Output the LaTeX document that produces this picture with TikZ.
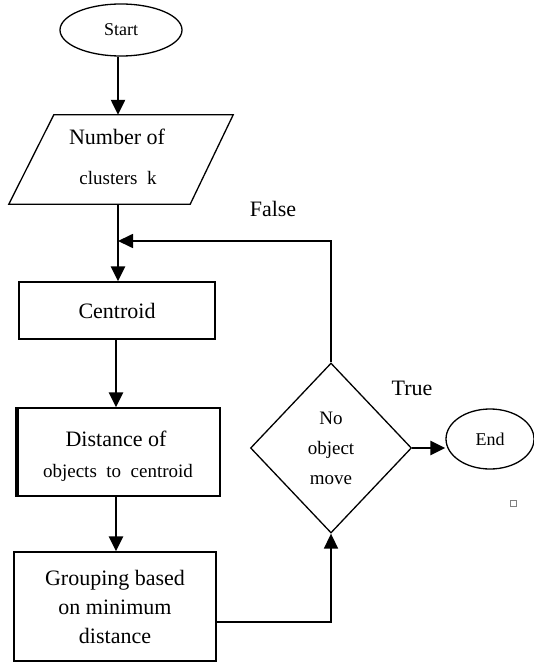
\documentclass[tikz,border=0pt]{standalone}
\usepackage{fontspec}
\setmainfont{Liberation Serif}
\usetikzlibrary{shapes.geometric,arrows.meta}
\begin{document}
\begin{tikzpicture}[x=1pt,y=-1pt,
  box/.style={draw,line width=1.3pt,rectangle,inner sep=0pt,align=center},
  term/.style={draw,line width=1.3pt,ellipse,inner sep=0pt,align=center},
  tip/.style={-{Triangle[length=15pt,width=14pt]}},
  flow/.style={line width=2.4pt,tip},
  plain/.style={line width=1.7pt,tip},
  big/.style={font=\fontsize{22}{26}\selectfont},
  mid/.style={font=\fontsize{19}{22}\selectfont},
  small/.style={font=\fontsize{18}{21}\selectfont}]
\useasboundingbox (0,0) rectangle (534,663);

% Start
\node[term,small,minimum width=122pt,minimum height=52pt] (start) at (121,30) {Start};

% parallelogram input
\node[inner sep=0pt,minimum width=224pt,minimum height=89pt,align=center] (num) at (121,159.5) {};
\draw[line width=1.3pt] ([xshift=45pt]num.north west) -- (num.north east)
  -- ([xshift=-43pt]num.south east) -- (num.south west) -- cycle;
\node[big,anchor=base] (numt1) at (117,145) {Number of};
\node[mid,anchor=base] (numt2) at (118,184) {clusters\ \ k};

% Centroid
\node[box,big,minimum width=196pt,minimum height=57pt] (cent) at (117,310.5) {Centroid};

% Distance
\node[box,minimum width=203pt,minimum height=88pt] (dist) at (118.5,452) {};
\draw[line width=4pt] ([xshift=1pt]dist.north west) -- ([xshift=1pt]dist.south west);
\node[big,anchor=base] (distt1) at (116,446) {Distance of};
\node[mid,anchor=base] (distt2) at (118,477) {objects\ \ to\ \ centroid};

% Grouping
\node[box,big,minimum width=202pt,minimum height=109pt] (grp) at (115,606.5)
  {Grouping based\\[3pt] on minimum\\[3pt] distance};

% Decision
\node[draw,diamond,line width=1.3pt,inner sep=0pt,minimum width=161pt,minimum height=170pt,
  align=center,mid] (dia) at (331,448) {No\\[8pt] object\\[8pt] move};

% End
\node[term,small,minimum width=88pt,minimum height=60pt] (end) at (490,439) {End};

% small square
\node[draw=gray,line width=0.6pt,minimum size=6pt,inner sep=0pt] (sq) at (513,503) {};

% labels
\node[big] (false) at (273,209) {False};
\node[big] (true) at (412,388) {True};

% connectors
\coordinate (join) at (118,241);
\draw[flow] (start.south -| 118,0) -- (num.north -| 118,0);
\draw[flow] (num.south -| 118,0) -- (cent.north -| 118,0);
\draw[flow] (cent.south -| 116,0) -- (dist.north -| 116,0);
\draw[flow] (dist.south -| 116,0) -- (grp.north -| 116,0);
\draw[plain] (dia.north) |- (join);
\draw[plain] (grp.east |- 0,622) -| (dia.south);
\draw[flow] (dia.east) -- (dia.east -| end.west);
\end{tikzpicture}
\end{document}
